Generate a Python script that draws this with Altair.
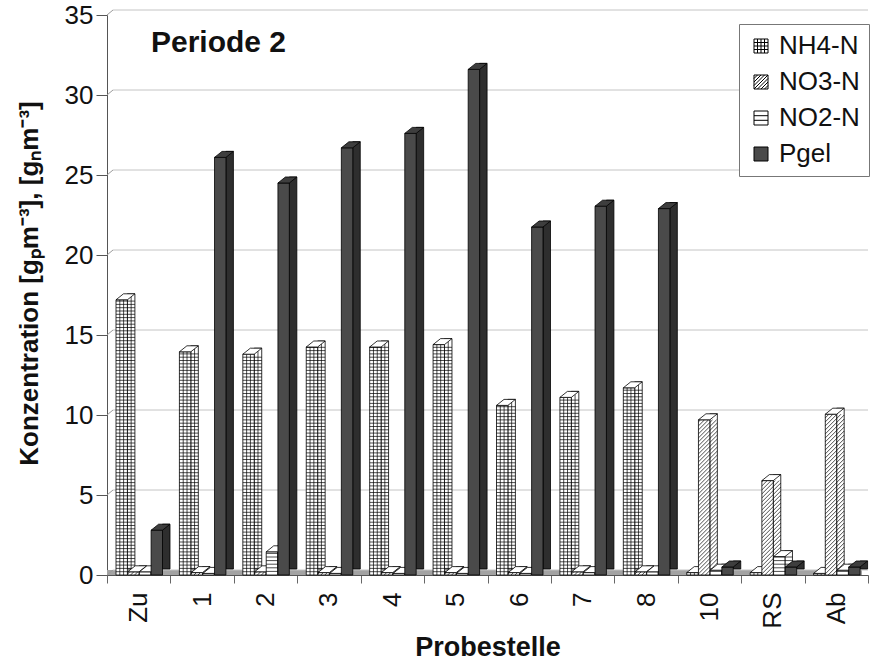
import json

import altair as alt
import pandas as pd

# ---------------------------------------------------------------- data
categories = ["Zu", "1", "2", "3", "4", "5", "6", "7", "8", "10", "RS", "Ab"]
series_names = ["NH4-N", "NO3-N", "NO2-N", "Pgel"]

nh4_n = [17.2, 13.95, 13.8, 14.25, 14.25, 14.4, 10.6, 11.1, 11.7, 0.15, 0.15, 0.1]
no3_n = [0.2, 0.15, 0.2, 0.15, 0.15, 0.15, 0.15, 0.2, 0.2, 9.7, 5.9, 10.05]
no2_n = [0.2, 0.1, 1.45, 0.1, 0.1, 0.1, 0.1, 0.15, 0.2, 0.3, 1.15, 0.3]
pgel = [2.8, 26.1, 24.5, 26.7, 27.6, 31.6, 21.75, 23.05, 22.9, 0.5, 0.5, 0.5]

y_ticks = [0, 5, 10, 15, 20, 25, 30, 35]

# ---------------------------------------------------------------- geometry (pixel sizes turned into data units)
W_PX, H_PX = 761, 560
Y_MAX = 35
UX = len(categories) / W_PX
UY = Y_MAX / H_PX

LEAD = 9 * UX          # gap before the first column of a group
PITCH = 11.7 * UX      # distance between neighbouring columns
BAR_W = 11.4 * UX      # front face width
SIDE_PX, RISE_PX = 7.5, 6
SIDE_X = SIDE_PX * UX  # depth of the side face
SIDE_Y = RISE_PX * UY
WALL_X = 6 * UX        # back wall offset
WALL_Y = 5 * UY

FONT = "Liberation Sans"
INK = "#111111"

rows = []
for s, (name, vals) in enumerate(zip(series_names, [nh4_n, no3_n, no2_n, pgel])):
    for i, (c, v) in enumerate(zip(categories, vals)):
        rows.append({"cat": c, "idx": i, "s": s, "series": name, "v": v})
df = pd.DataFrame(rows)

# ---------------------------------------------------------------- scales and axes
XS = alt.Scale(domain=[0, len(categories)], nice=False, zero=False)
YS = alt.Scale(domain=[0, Y_MAX], nice=False)

label_expr = f"datum.value < {len(categories)} ? {json.dumps(categories)}[datum.value] : ''"

x_axis = alt.Axis(
    values=list(range(len(categories) + 1)), labelExpr=label_expr,
    labelOffset=W_PX / len(categories) / 2, labelAngle=270, labelAlign="right",
    labelBaseline="middle", labelFontSize=26, labelPadding=9, labelFlush=False,
    labelOverlap=False, tickSize=8, tickColor="#666666", domainColor="#555555",
    title="Probestelle", titleFontSize=27, titleFontWeight="bold", titlePadding=6,
    grid=False,
)
y_axis = alt.Axis(
    values=y_ticks, labelFontSize=26, labelPadding=3, labelFlush=False,
    tickSize=11, tickColor="#555555", domainColor="#555555", grid=False,
    title="Konzentration [gₚm⁻³], [gₙm⁻³]", titleFontSize=26,
    titleFontWeight="bold", titlePadding=22, titleY=268,
)


def X(field=None, **kw):
    if field is not None:
        kw["field"] = field
    return alt.X(type="quantitative", scale=XS, axis=x_axis, **kw)


def Y(field=None, **kw):
    if field is not None:
        kw["field"] = field
    return alt.Y(type="quantitative", scale=YS, axis=y_axis, **kw)


# ---------------------------------------------------------------- floor and back wall
floor = alt.Chart(alt.Data(values=[{}])).mark_rect(fill="#a3a3a3").encode(
    x=X(datum=0), x2=alt.X2(datum=len(categories) - WALL_X),
    y=Y(datum=0), y2=alt.Y2(datum=WALL_Y),
)

grid_src = alt.Chart(pd.DataFrame({"t": y_ticks})).transform_calculate(
    tb=f"datum.t + {WALL_Y}", xw=f"{WALL_X}", xe=f"{len(categories)}", xz="0"
)
grid_back = grid_src.mark_rule(color="#c4c4c4", strokeWidth=1).encode(
    x=X("xw"), x2=alt.X2("xe"), y=Y("tb")
)
grid_link = grid_src.mark_rule(color="#9a9a9a", strokeWidth=1).encode(
    x=X("xz"), x2=alt.X2("xw"), y=Y("t"), y2=alt.Y2("tb")
)

# ---------------------------------------------------------------- 3-D columns
front_fill = ["white", "white", "white", "#4a4a4a"]
side_fill = ["white", "white", "white", "#2e2e2e"]
top_fill = ["white", "white", "white", "#3e3e3e"]

R = 10  # custom symbol unit in pixels (size = 4 * R^2)
top_path = (
    f"M0,0L{11.4 / R:.3f},0L{(11.4 + SIDE_PX) / R:.3f},{-RISE_PX / R:.3f}"
    f"L{SIDE_PX / R:.3f},{-RISE_PX / R:.3f}Z"
)

STEP_GRID = 3.3 * UY
STEP_LINES = 3.6 * UY
STEP_DIAG = 4.0 * UY
WD = BAR_W + SIDE_X
HD = (11.4 + SIDE_PX) * UY

line_style = dict(color="black", strokeWidth=0.7)


def column_layers(s):
    base = alt.Chart(df[df["s"] == s]).transform_calculate(
        x0=f"datum.idx + {LEAD} + datum.s * {PITCH}",
        x1=f"datum.x0 + {BAR_W}",
        xs=f"datum.x1 + {SIDE_X}",
        sb=f"{SIDE_Y}",
        st=f"datum.v + {SIDE_Y}",
    )
    side = base.mark_rect(fill=side_fill[s], stroke="black", strokeWidth=0.8).encode(
        x=X("x1"), x2=alt.X2("xs"), y=Y("sb"), y2=alt.Y2("st")
    )
    front = base.mark_rect(fill=front_fill[s], stroke="black", strokeWidth=0.8).encode(
        x=X("x0"), x2=alt.X2("x1"), y=Y("v"), y2=alt.Y2(datum=0)
    )
    layers = [side, front]

    if s == 0:  # square grid
        layers.append(
            base.transform_calculate(ys=f"sequence({STEP_GRID}, datum.v, {STEP_GRID})")
            .transform_flatten(["ys"])
            .mark_rule(**line_style)
            .encode(x=X("x0"), x2=alt.X2("xs"), y=Y("ys"))
        )
        layers.append(
            base.transform_calculate(
                vx=f"[datum.x0 + {BAR_W / 3}, datum.x0 + {2 * BAR_W / 3}, datum.x1 + {SIDE_X / 2}]",
                vb=f"[0, 0, {SIDE_Y / 2}]",
                vt=f"[datum.v, datum.v, datum.v + {SIDE_Y / 2}]",
            )
            .transform_flatten(["vx", "vb", "vt"])
            .mark_rule(**line_style)
            .encode(x=X("vx"), y=Y("vb"), y2=alt.Y2("vt"))
        )
    elif s == 1:  # diagonal hatching
        layers.append(
            base.transform_calculate(ys=f"sequence({-HD}, datum.v, {STEP_DIAG})")
            .transform_flatten(["ys"])
            .transform_calculate(
                ya="max(datum.ys, 0)",
                yb=f"min(datum.ys + {HD}, datum.v)",
            )
            .transform_calculate(
                xa=f"datum.x0 + (datum.ya - datum.ys) / {HD} * {WD}",
                xb=f"datum.x0 + (datum.yb - datum.ys) / {HD} * {WD}",
            )
            .transform_filter("datum.yb > datum.ya")
            .mark_rule(**line_style)
            .encode(x=X("xa"), x2=alt.X2("xb"), y=Y("ya"), y2=alt.Y2("yb"))
        )
    elif s == 2:  # horizontal lines
        layers.append(
            base.transform_calculate(ys=f"sequence({STEP_LINES}, datum.v, {STEP_LINES})")
            .transform_flatten(["ys"])
            .mark_rule(**line_style)
            .encode(x=X("x0"), x2=alt.X2("xs"), y=Y("ys"))
        )

    top = base.mark_point(
        shape=top_path, size=4 * R * R, filled=True, fill=top_fill[s],
        stroke="black", strokeWidth=0.8, opacity=1,
    ).encode(x=X("x0"), y=Y("v"))
    layers.append(top)
    return layers


# ---------------------------------------------------------------- legend
legend_shapes = [
    "M-1,-1H1V1H-1Z M-0.5,-1V1 M0,-1V1 M0.5,-1V1 M-1,-0.5H1 M-1,0H1 M-1,0.5H1",
    "M-1,-1H1V1H-1Z M-1,-0.5L-0.5,-1 M-1,0L0,-1 M-1,0.5L0.5,-1 M-1,1L1,-1 "
    "M-0.5,1L1,-0.5 M0,1L1,0 M0.5,1L1,0.5",
    "M-1,-1H1V1H-1Z M-1,-0.33H1 M-1,0.33H1",
    "M-1,-1H1V1H-1Z",
]
legend_cfg = dict(
    title=None, orient="none", legendX=632, legendY=9, labelFont=FONT,
    labelFontSize=26, labelColor=INK, symbolSize=196, symbolStrokeWidth=1,
    rowPadding=10, padding=9, labelOffset=5,
    strokeColor="#777777", fillColor="white", symbolOpacity=1,
)
legend_layer = (
    alt.Chart(pd.DataFrame({"series": series_names}))
    .transform_filter("false")
    .mark_point(filled=True, strokeWidth=1, opacity=1)
    .encode(
        fill=alt.Fill("series:N", scale=alt.Scale(domain=series_names, range=front_fill),
                      legend=alt.Legend(**legend_cfg)),
        stroke=alt.Stroke("series:N",
                          scale=alt.Scale(domain=series_names, range=["black"] * 4),
                          legend=alt.Legend(**legend_cfg)),
        shape=alt.Shape("series:N", scale=alt.Scale(domain=series_names, range=legend_shapes),
                        legend=alt.Legend(**legend_cfg)),
    )
)

layers = [floor, grid_link, grid_back]
for s in range(len(series_names)):
    layers.extend(column_layers(s))
layers.append(legend_layer)

chart = (
    alt.layer(*layers)
    .properties(
        width=W_PX, height=H_PX,
        autosize=alt.AutoSizeParams(type="none"),
        padding={"left": 107, "top": 15, "right": 6, "bottom": 89},
        title=alt.TitleParams(
            "Periode 2", anchor="start", frame="group", fontSize=30, fontWeight="bold",
            color=INK, font=FONT, dx=44, dy=80, offset=0, baseline="alphabetic",
        ),
    )
    .configure(font=FONT, background="white")
    .configure_view(stroke=None)
    .configure_axis(labelColor=INK, titleColor=INK, labelFont=FONT, titleFont=FONT)
)

chart.save("out.html", embed_options={"renderer": "svg", "actions": False})
